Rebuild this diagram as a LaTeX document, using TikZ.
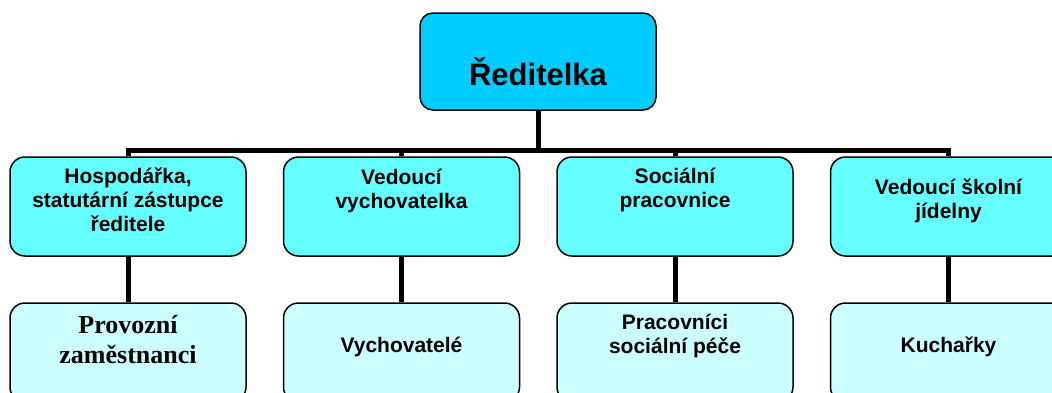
\documentclass[tikz,border=0pt]{standalone}
\usepackage{fontspec}
\setmainfont{Liberation Sans}
\newfontfamily\timesfont{Liberation Serif}
\definecolor{topblue}{RGB}{0,204,255}
\definecolor{midcyan}{RGB}{102,255,255}
\definecolor{lowcyan}{RGB}{204,255,255}
\newcommand{\boxtext}[3]{\parbox[c][#1][t]{236pt}{\centering\vspace*{#2}\strut #3}}

\begin{document}
\begin{tikzpicture}[x=1pt,y=-1pt]
	\tikzstyle{every node}=[draw=black,line width=1.5pt,rounded corners=15pt,inner sep=0pt,
	font=\bfseries\fontsize{21}{24}\selectfont]
	\tikzstyle{boss}=[fill=topblue,rounded corners=13pt,font=\bfseries\fontsize{31}{36}\selectfont]
	\tikzstyle{lvlone}=[fill=midcyan]
	\tikzstyle{lvltwo}=[fill=lowcyan]
	\tikzstyle{wire}=[line width=5pt]
	\useasboundingbox (0,0) rectangle (1052,392);
	% head
	\node[boss] (dir) at (538,61.5) {\boxtext{97pt}{45pt}{Ředitelka}};
	% first row
	\node[lvlone] (hosp) at (128,206.5) {\boxtext{99pt}{9.2pt}{Hospodářka,\\statutární zástupce\\ředitele}};
	\node[lvlone] (vych) at (401.5,206.5) {\boxtext{99pt}{11pt}{Vedoucí\\vychovatelka}};
	\node[lvlone] (soc) at (675,206.5) {\boxtext{99pt}{9.2pt}{Sociální\\pracovnice}};
	\node[lvlone] (jid) at (948.5,206.5) {\boxtext{99pt}{21pt}{Vedoucí školní\\jídelny}};
	% second row
	\node[lvltwo,font=\timesfont\bfseries\fontsize{26}{30}\selectfont] (prov) at (128,352.5) {\boxtext{99pt}{9pt}{Provozní\\zaměstnanci}};
	\node[lvltwo] (vychov) at (401.5,352.5) {\boxtext{99pt}{33pt}{Vychovatelé}};
	\node[lvltwo] (pece) at (675,352.5) {\boxtext{99pt}{10pt}{Pracovníci\\sociální péče}};
	\node[lvltwo] (kuch) at (948.5,352.5) {\boxtext{99pt}{33pt}{Kuchařky}};
	% connectors
	\coordinate (fork) at (538,150);
	\draw[wire] (dir.south) -- (fork);
	\draw[wire] (hosp.north) |- (fork) -| (jid.north);
	\draw[wire] (vych.north) -- (vych.north |- fork);
	\draw[wire] (soc.north) -- (soc.north |- fork);
	\foreach \a/\b in {hosp/prov,vych/vychov,soc/pece,jid/kuch}
		\draw[wire] (\a.south) -- (\b.north);
\end{tikzpicture}
\end{document}
